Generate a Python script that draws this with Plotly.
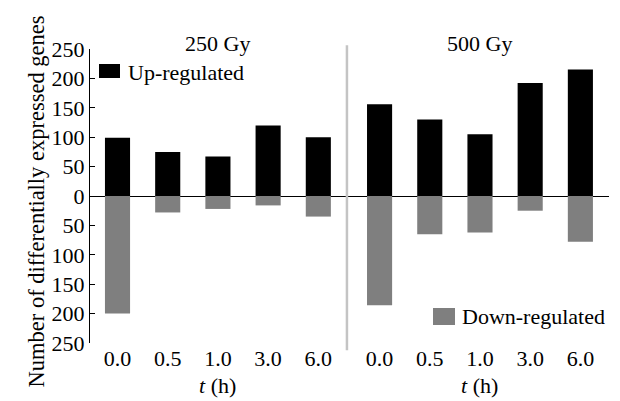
import plotly.graph_objects as go

# Sampling times (h) and dose groups
times = ["0.0", "0.5", "1.0", "3.0", "6.0"]
doses = ["250 Gy", "500 Gy"]

# Number of differentially expressed genes per dose group
up_250 = [99, 75, 67, 120, 100]
down_250 = [200, 28, 22, 16, 35]
up_500 = [156, 130, 105, 192, 215]
down_500 = [186, 65, 62, 25, 78]

GROUP_OFFSET = 5.22
FONT = "Liberation Serif, Times New Roman, serif"
FS = 22

x_pos = [i for i in range(len(times))] + [i + GROUP_OFFSET for i in range(len(times))]
x_labels = times + times
up_vals = up_250 + up_500
down_vals = [-v for v in down_250 + down_500]

fig = go.Figure()
fig.add_trace(go.Bar(x=x_pos, y=up_vals, width=0.5, marker=dict(color="#000000", line=dict(width=0)),
                     name="Up-regulated", showlegend=False))
fig.add_trace(go.Bar(x=x_pos, y=down_vals, width=0.5, marker=dict(color="#7f7f7f", line=dict(width=0)),
                     name="Down-regulated", showlegend=False))

ytick_vals = list(range(-250, 251, 50))
ytick_text = [str(abs(v)) for v in ytick_vals]

fig.update_layout(
    width=620, height=401,
    margin=dict(l=90, r=11, t=49, b=58),
    plot_bgcolor="white", paper_bgcolor="white",
    barmode="overlay",
    font=dict(family=FONT, size=FS, color="black"),
    xaxis=dict(range=[-0.548, 9.79], tickvals=x_pos, ticktext=x_labels, showgrid=False,
               showline=False, zeroline=False, ticks="", tickfont=dict(size=FS)),
    yaxis=dict(range=[-250, 250], tickvals=ytick_vals, ticktext=ytick_text, showgrid=False,
               showline=True, linecolor="black", linewidth=1, ticks="inside", ticklen=5,
               tickcolor="black", zeroline=True, zerolinecolor="black", zerolinewidth=1.2,
               tickfont=dict(size=FS)),
)

# Divider between the two dose groups
sep_x = (len(times) - 1 + GROUP_OFFSET) / 2 - 0.04
fig.add_shape(type="line", xref="x", yref="paper", x0=sep_x, x1=sep_x, y0=-0.025, y1=1.013,
              line=dict(color="#c4c4c4", width=2.5))

# Group headers and time-axis labels
group_centers = [2, 2 + GROUP_OFFSET]
for cx, dose in zip(group_centers, doses):
    fig.add_annotation(x=cx, y=1.02, xref="x", yref="paper", text=dose, showarrow=False,
                       yanchor="middle", font=dict(size=FS))
    fig.add_annotation(x=cx, y=-0.143, xref="x", yref="paper", text="<i>t</i> (h)", showarrow=False,
                       yanchor="middle", font=dict(size=FS))

# Y-axis title
fig.add_annotation(x=-0.131, y=0.48, xref="paper", yref="paper",
                   text="Number of differentially expressed genes", textangle=-90,
                   showarrow=False, font=dict(size=22.5))

# Legend keys
fig.add_shape(type="rect", xref="paper", yref="paper", x0=(99 - 90) / 519, x1=(120 - 90) / 519,
              y0=(343 - 78) / 294, y1=(343 - 64) / 294, fillcolor="#000000", line=dict(width=0))
fig.add_annotation(x=(126 - 90) / 519, y=(343 - 72) / 294, xref="paper", yref="paper",
                   text="Up-regulated", showarrow=False, xanchor="left", yanchor="middle",
                   font=dict(size=FS))
fig.add_shape(type="rect", xref="paper", yref="paper", x0=(433 - 90) / 519, x1=(455 - 90) / 519,
              y0=(343 - 325) / 294, y1=(343 - 308) / 294, fillcolor="#7f7f7f", line=dict(width=0))
fig.add_annotation(x=(460 - 90) / 519, y=(343 - 316) / 294, xref="paper", yref="paper",
                   text="Down-regulated", showarrow=False, xanchor="left", yanchor="middle",
                   font=dict(size=FS))

fig.write_html("out.html")
